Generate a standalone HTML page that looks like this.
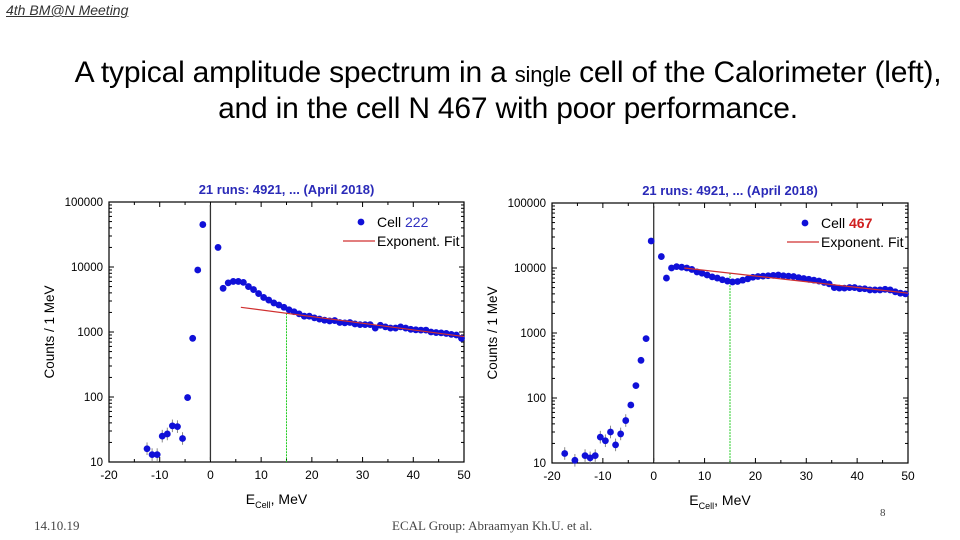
<!DOCTYPE html>
<html><head><meta charset="utf-8"><style>
body{margin:0;width:960px;height:540px;background:#fff;overflow:hidden;position:relative;font-family:"Liberation Sans",sans-serif}
.hdr{position:absolute;left:6px;top:2px;font-style:italic;text-decoration:underline;font-size:14px;color:#333}
.title{position:absolute;left:48px;width:920px;top:56px;text-align:center;font-size:30px;line-height:34px;color:#000;letter-spacing:-0.2px;white-space:nowrap}
.title .sm{font-size:22px}
.foot{position:absolute;font-family:"Liberation Serif",serif;font-size:13px;color:#444}
</style></head><body>
<div class="hdr">4th BM@N Meeting</div>
<div class="title">A typical amplitude spectrum in a <span class="sm">single</span> cell of the Calorimeter (left),<br>and in the cell N 467 with poor performance.</div>
<div class="foot" style="left:34px;top:518px">14.10.19</div>
<div class="foot" style="left:392px;top:518px">ECAL Group: Abraamyan Kh.U. et al.</div>
<div class="foot" style="left:880px;top:507px;font-size:11px">8</div>
<svg id="svg" width="960" height="540" style="position:absolute;left:0;top:0"></svg>
<script>
const xTicks=[-20,-10,0,10,20,30,40,50];
const yTicks=[10,100,1000,10000,100000];
const leftX=[-12.5,-11.5,-10.5,-9.5,-8.5,-7.5,-6.5,-5.5,-4.5,-3.5,-2.5,-1.5,1.5,2.5,3.5,4.5,5.5,6.5,7.5,8.5,9.5,10.5,11.5,12.5,13.5,14.5,15.5,16.5,17.5,18.5,19.5,20.5,21.5,22.5,23.5,24.5,25.5,26.5,27.5,28.5,29.5,30.5,31.5,32.5,33.5,34.5,35.5,36.5,37.5,38.5,39.5,40.5,41.5,42.5,43.5,44.5,45.5,46.5,47.5,48.5,49.5];
const leftY=[16,13,13,25,27,36,35,23,98,800,9000,45000,20000,4700,5700,6000,6000,5800,5000,4500,3900,3400,3100,2800,2600,2400,2200,2050,1900,1750,1750,1650,1580,1520,1480,1500,1400,1380,1400,1330,1300,1300,1300,1150,1270,1200,1150,1150,1200,1150,1100,1080,1070,1070,1000,980,970,950,920,900,800];
const leftFit=[[6,2400],[50,850]];
const rightX=[-17.5,-15.5,-13.5,-12.5,-11.5,-10.5,-9.5,-8.5,-7.5,-6.5,-5.5,-4.5,-3.5,-2.5,-1.5,-0.5,1.5,2.5,3.5,4.5,5.5,6.5,7.5,8.5,9.5,10.5,11.5,12.5,13.5,14.5,15.5,16.5,17.5,18.5,19.5,20.5,21.5,22.5,23.5,24.5,25.5,26.5,27.5,28.5,29.5,30.5,31.5,32.5,33.5,34.5,35.5,36.5,37.5,38.5,39.5,40.5,41.5,42.5,43.5,44.5,45.5,46.5,47.5,48.5,49.5];
const rightY=[14,11,13,12,13,25,22,30,19,28,45,78,155,380,820,26000,15000,7000,10000,10500,10300,10000,9500,8700,8300,7800,7300,7000,6600,6300,6100,6200,6500,6800,7200,7400,7500,7600,7700,7800,7600,7500,7400,7100,6900,6700,6500,6300,6000,5700,5000,4900,4900,5000,5000,4800,4800,4600,4600,4600,4700,4600,4300,4100,4000];
const rightFit=[[6,10000],[50,4100]];
const NS="http://www.w3.org/2000/svg";
const svg=document.getElementById('svg');
function mk(tag,at,parent,txt){const e=document.createElementNS(NS,tag);for(const k in at)e.setAttribute(k,at[k]);if(txt!==undefined)e.textContent=txt;(parent||svg).appendChild(e);return e;}
function chart(name,L,T,R,B,xs,ys,fit,cellLabel,cellColor,cellBold){
  const g=mk('g',{});
  
  
  const sx=v=>L+(v+20)/70*(R-L);
  const sy=v=>B-(Math.log10(v)-1)/4*(B-T);
  const t=mk('text',{x:(L+R)/2,y:T-8,'text-anchor':'middle','font-size':13,'font-weight':'bold',fill:'#2a2ab8'},g,'21 runs: 4921, ... (April 2018)');
  
  mk('rect',{x:L,y:T,width:R-L,height:B-T,fill:'none',stroke:'#000','stroke-width':1.2},g);
  xTicks.forEach(v=>{const x=sx(v);
    mk('line',{x1:x,x2:x,y1:B,y2:B-5,stroke:'#000'},g);mk('line',{x1:x,x2:x,y1:T,y2:T+5,stroke:'#000'},g);
    const l=mk('text',{x:x,y:B+17,'text-anchor':'middle','font-size':12},g,v);
    
    if(v<50){const m=sx(v+5);mk('line',{x1:m,x2:m,y1:B,y2:B-3,stroke:'#000'},g);mk('line',{x1:m,x2:m,y1:T,y2:T+3,stroke:'#000'},g);}
  });
  yTicks.forEach((v,i)=>{const y=sy(v);
    mk('line',{x1:L,x2:L+5,y1:y,y2:y,stroke:'#000'},g);mk('line',{x1:R,x2:R-5,y1:y,y2:y,stroke:'#000'},g);
    const l=mk('text',{x:L-6,y:y+4,'text-anchor':'end','font-size':11.5},g,v);
    
    if(i<yTicks.length-1)for(let k=2;k<10;k++){const yy=sy(v*k);mk('line',{x1:L,x2:L+3,y1:yy,y2:yy,stroke:'#000'},g);mk('line',{x1:R,x2:R-3,y1:yy,y2:yy,stroke:'#000'},g);}
  });
  const yt=mk('text',{x:0,y:0,'text-anchor':'middle','font-size':13.5,transform:`translate(${L-55},${(T+B)/2}) rotate(-90)`},g,'Counts / 1 MeV');
  
  const xt=mk('text',{x:(L+R)/2-10,y:B+42,'text-anchor':'middle','font-size':14},g);
  
  xt.innerHTML='E<tspan font-size="9" dy="4">Cell</tspan><tspan dy="-4">, MeV</tspan>';
  mk('line',{x1:sx(0),x2:sx(0),y1:T+3,y2:B-2,stroke:'#333','stroke-width':1.3},g);
  const fy=fit[0][1]*Math.pow(fit[1][1]/fit[0][1],(15-fit[0][0])/(fit[1][0]-fit[0][0]));
  mk('line',{x1:sx(15),x2:sx(15),y1:sy(fy),y2:B,stroke:'#2c2','stroke-width':1,'stroke-dasharray':'2,1'},g);
  xs.forEach((x,i)=>{const y=ys[i];
    if(y<60){mk('line',{x1:sx(x),x2:sx(x),y1:sy(y*1.25),y2:sy(y*0.8),stroke:'#888'},g);}
    const c=mk('circle',{cx:sx(x),cy:sy(y),r:3.4,fill:'#1010d8'},g);
    
  });
  const fl=mk('line',{x1:sx(fit[0][0]),y1:sy(fit[0][1]),x2:sx(fit[1][0]),y2:sy(fit[1][1]),stroke:'#d03030','stroke-width':1.2},g);
  
  const lg=mk('g',{},g);
  
  mk('circle',{cx:R-103,cy:T+20,r:3.4,fill:'#1010d8'},lg);
  const lt=mk('text',{x:R-87,y:T+25,'font-size':14},lg);
  lt.innerHTML=`Cell <tspan fill="${cellColor}" font-weight="${cellBold?'bold':'normal'}">${cellLabel}</tspan>`;
  mk('line',{x1:R-121,x2:R-89,y1:T+39,y2:T+39,stroke:'#d03030','stroke-width':1.2},lg);
  mk('text',{x:R-87,y:T+44,'font-size':14},lg,'Exponent. Fit');
}
chart('left-spectrum-chart',109,202,464,462,leftX,leftY,leftFit,'222','#3030c0',false);
chart('right-spectrum-chart',552,203,908,463,rightX,rightY,rightFit,'467','#d02020',true);
</script>
</body></html>
